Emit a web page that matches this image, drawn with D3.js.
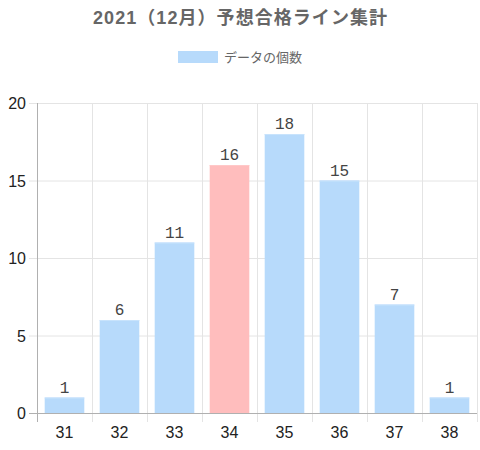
<!DOCTYPE html>
<html>
<head>
<meta charset="utf-8">
<script src="https://cdn.jsdelivr.net/npm/d3@7"></script>
<style>
  body { margin: 0; background: #fff; }
  svg { display: block; }
</style>
</head>
<body>
<div class="chart"></div>
<script>
var svgWidth = 480;
var svgHeight = 450;

// chart data
var categories = ["31", "32", "33", "34", "35", "36", "37", "38"];
var counts = [1, 6, 11, 16, 18, 15, 7, 1];
var highlight = "34";
var yTicks = [0, 5, 10, 15, 20];

var margin = { top: 103, right: 3, bottom: 37, left: 37 };
var width = svgWidth - margin.left - margin.right;
var height = svgHeight - margin.top - margin.bottom;

var blue = "#b7dafb";
var pink = "#ffbdbd";

var svg = d3.select(".chart")
  .append("svg")
  .attr("width", svgWidth)
  .attr("height", svgHeight);

// title
svg.append("text")
  .attr("x", svgWidth / 2)
  .attr("y", 24)
  .attr("text-anchor", "middle")
  .attr("textLength", 294)
  .attr("lengthAdjust", "spacing")
  .style("font-family", "'Liberation Sans', 'Noto Sans CJK JP', sans-serif")
  .style("font-size", "18px")
  .style("font-weight", "bold")
  .style("fill", "#666")
  .text("2021（12月）予想合格ライン集計");

// legend
var legend = svg.append("g");
legend.append("rect")
  .attr("x", 178)
  .attr("y", 51)
  .attr("width", 40)
  .attr("height", 12)
  .attr("fill", blue);
legend.append("text")
  .attr("x", 224)
  .attr("y", 62)
  .style("font-family", "'Liberation Sans', 'Noto Sans CJK JP', sans-serif")
  .style("font-size", "13px")
  .style("fill", "#666")
  .text("データの個数");

var chartGroup = svg.append("g")
  .attr("transform", `translate(${margin.left}, ${margin.top})`);

var xScale = d3.scaleBand()
  .domain(categories)
  .range([0, width]);

var yScale = d3.scaleLinear()
  .domain([0, 20])
  .range([height, 0]);

// horizontal grid
chartGroup.append("g")
  .selectAll("line")
  .data(yTicks)
  .enter()
  .append("line")
  .attr("x1", -8)
  .attr("x2", width)
  .attr("y1", d => yScale(d) + 0.5)
  .attr("y2", d => yScale(d) + 0.5)
  .attr("stroke", "#e4e4e4");

// vertical grid at category boundaries
var bounds = categories.map(c => xScale(c)).concat([width]);
chartGroup.append("g")
  .selectAll("line")
  .data(bounds)
  .enter()
  .append("line")
  .attr("x1", d => Math.round(d) + 0.5)
  .attr("x2", d => Math.round(d) + 0.5)
  .attr("y1", 0)
  .attr("y2", height + 9)
  .attr("stroke", "#e4e4e4");

// bars
chartGroup.append("g")
  .selectAll("rect")
  .data(counts)
  .enter()
  .append("rect")
  .attr("x", (d, i) => xScale(categories[i]) + xScale.bandwidth() * 0.14)
  .attr("width", xScale.bandwidth() * 0.72)
  .attr("y", d => yScale(d))
  .attr("height", d => height - yScale(d))
  .attr("fill", (d, i) => categories[i] === highlight ? pink : blue);

// bar top edges
chartGroup.append("g")
  .selectAll("line")
  .data(counts)
  .enter()
  .append("line")
  .attr("x1", (d, i) => xScale(categories[i]) + xScale.bandwidth() * 0.14)
  .attr("x2", (d, i) => xScale(categories[i]) + xScale.bandwidth() * 0.86)
  .attr("y1", d => yScale(d) + 0.5)
  .attr("y2", d => yScale(d) + 0.5)
  .attr("stroke", (d, i) => categories[i] === highlight ? "#ffc8c8" : "#c8e3fc");

// axis lines
chartGroup.append("line")
  .attr("x1", 0.5).attr("x2", 0.5)
  .attr("y1", 0).attr("y2", height + 9)
  .attr("stroke", "#b0b0b0");
chartGroup.append("line")
  .attr("x1", -8).attr("x2", width)
  .attr("y1", height + 0.5).attr("y2", height + 0.5)
  .attr("stroke", "#b0b0b0");

// y tick labels
chartGroup.append("g")
  .selectAll("text")
  .data(yTicks)
  .enter()
  .append("text")
  .attr("x", -11)
  .attr("y", d => yScale(d) + 6)
  .attr("text-anchor", "end")
  .style("font-family", "'Liberation Sans', Arial, sans-serif")
  .style("font-size", "16px")
  .style("fill", "#222")
  .text(d => d);

// x tick labels
chartGroup.append("g")
  .selectAll("text")
  .data(categories)
  .enter()
  .append("text")
  .attr("x", d => xScale(d) + xScale.bandwidth() / 2)
  .attr("y", height + 25)
  .attr("text-anchor", "middle")
  .style("font-family", "'Liberation Sans', Arial, sans-serif")
  .style("font-size", "16px")
  .style("fill", "#222")
  .text(d => d);

// value labels
chartGroup.append("g")
  .selectAll("text")
  .data(counts)
  .enter()
  .append("text")
  .attr("x", (d, i) => xScale(categories[i]) + xScale.bandwidth() / 2)
  .attr("y", d => yScale(d) - 5)
  .attr("text-anchor", "middle")
  .style("font-family", "'Liberation Mono', monospace")
  .style("font-size", "16px")
  .style("fill", "#444")
  .text(d => d);
</script>
</body>
</html>
